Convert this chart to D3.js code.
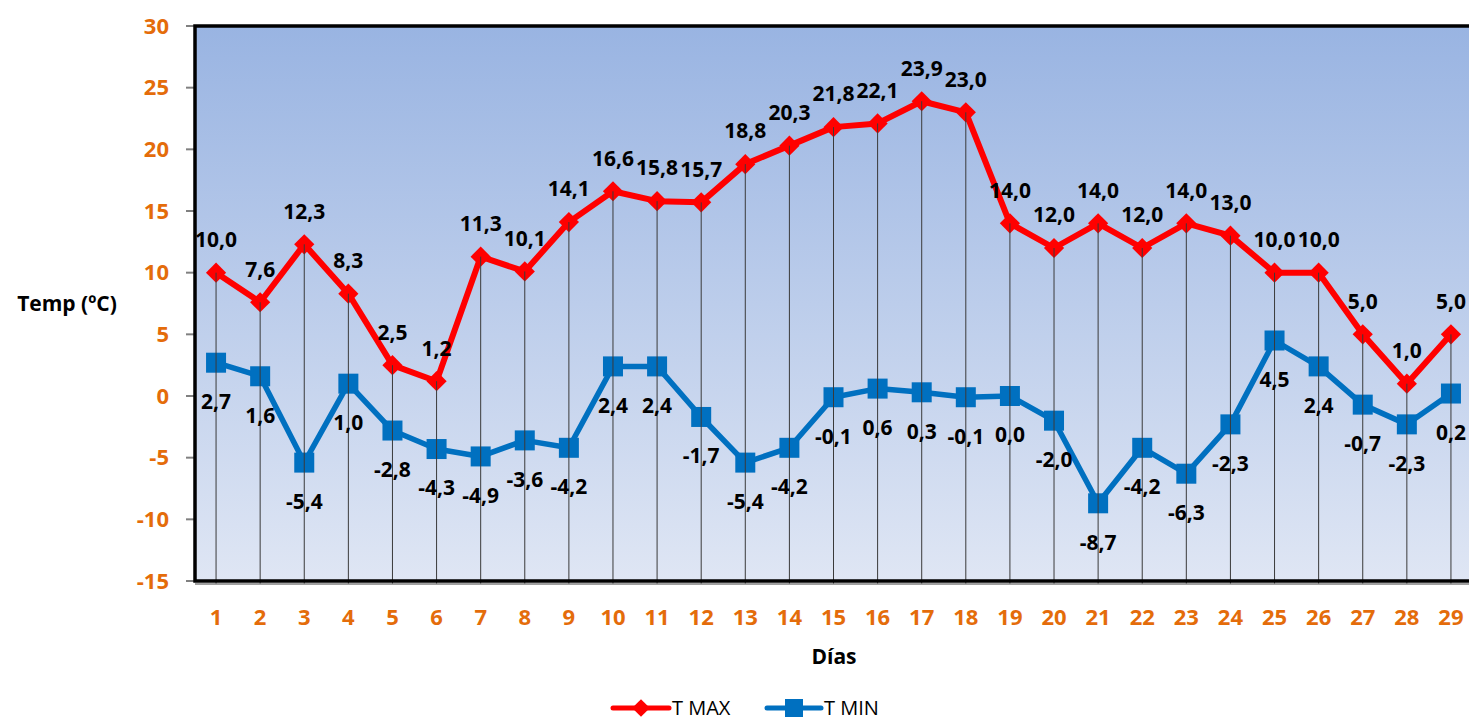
<!DOCTYPE html>
<meta charset="utf-8">
<style>
body { margin: 0; background: #fff; }
svg { display: block; font-family: "Open Sans", sans-serif; }
.ytick text, .xtick text { fill: #e46c0a; font-weight: bold; font-size: 22px; }
.lbl { font-weight: bold; font-size: 21px; fill: #000; }
</style>
<svg width="1469" height="720"></svg>
<script src="https://cdnjs.cloudflare.com/ajax/libs/d3/7.8.5/d3.min.js"></script>
<script>

var days = d3.range(1, 30);
var tmax = [10.0, 7.6, 12.3, 8.3, 2.5, 1.2, 11.3, 10.1, 14.1, 16.6, 15.8, 15.7, 18.8, 20.3, 21.8,
            22.1, 23.9, 23.0, 14.0, 12.0, 14.0, 12.0, 14.0, 13.0, 10.0, 10.0, 5.0, 1.0, 5.0];
var tmin = [2.7, 1.6, -5.4, 1.0, -2.8, -4.3, -4.9, -3.6, -4.2, 2.4, 2.4, -1.7, -5.4, -4.2, -0.1,
            0.6, 0.3, -0.1, 0.0, -2.0, -8.7, -4.2, -6.3, -2.3, 4.5, 2.4, -0.7, -2.3, 0.2];
var yTicks = [-15, -10, -5, 0, 5, 10, 15, 20, 25, 30];

var svg = d3.select("svg");
var plotL = 195, plotR = 1473, plotT = 26, plotB = 581;

var x = d3.scaleBand().domain(days).range([plotL - 1, plotR]);
var y = d3.scaleLinear().domain([-15, 30]).range([plotB, plotT]);
var cx = function(d) { return x(d) + x.bandwidth() / 2; };
var fmt = function(v) { return v.toFixed(1).replace(".", ","); };

// background gradient
var defs = svg.append("defs");
var grad = defs.append("linearGradient").attr("id", "bg")
    .attr("x1", 0).attr("y1", 0).attr("x2", 0).attr("y2", 1);
grad.append("stop").attr("offset", "0%").attr("stop-color", "#99b4e2");
grad.append("stop").attr("offset", "100%").attr("stop-color", "#dfe6f4");

svg.append("rect")
    .attr("x", plotL).attr("y", plotT)
    .attr("width", plotR - plotL).attr("height", plotB - plotT)
    .attr("fill", "url(#bg)");

// y axis ticks
var yt = svg.append("g").attr("class", "ytick")
  .selectAll("g").data(yTicks).enter().append("g")
    .attr("transform", function(d) { return "translate(0," + y(d) + ")"; });
yt.append("line").attr("x1", plotL - 9).attr("x2", plotL).attr("stroke", "#808080").attr("stroke-width", 2);
yt.append("text").attr("x", 169).attr("dy", "0.35em").attr("text-anchor", "end")
    .text(function(d) { return d; });

// x axis labels
svg.append("g").attr("class", "xtick")
  .selectAll("text").data(days).enter().append("text")
    .attr("x", cx).attr("y", 617).attr("dy", "0.35em").attr("text-anchor", "middle")
    .text(function(d) { return d; });

// series lines
var line = d3.line().x(function(d, i) { return cx(days[i]); }).y(function(d) { return y(d); });

svg.append("path").datum(tmin).attr("d", line)
    .attr("fill", "none").attr("stroke", "#0070c0").attr("stroke-width", 5.5).attr("stroke-linejoin", "round");
svg.append("path").datum(tmax).attr("d", line)
    .attr("fill", "none").attr("stroke", "#ff0000").attr("stroke-width", 6).attr("stroke-linejoin", "round");

// markers
svg.append("g").selectAll("rect").data(tmin).enter().append("rect")
    .attr("x", function(d, i) { return cx(days[i]) - 10; })
    .attr("y", function(d) { return y(d) - 10; })
    .attr("width", 20).attr("height", 20).attr("fill", "#0070c0");
svg.append("g").selectAll("path").data(tmax).enter().append("path")
    .attr("d", d3.symbol().type(d3.symbolDiamond2).size(260))
    .attr("transform", function(d, i) { return "translate(" + cx(days[i]) + "," + y(d) + ")"; })
    .attr("fill", "#ff0000");

// drop lines
svg.append("g").selectAll("line").data(days).enter().append("line")
    .attr("x1", cx).attr("x2", cx)
    .attr("y1", function(d, i) { return y(Math.max(tmax[i], tmin[i])); })
    .attr("y2", plotB + 3)
    .attr("stroke", "#3a3a3a").attr("stroke-width", 1);

// plot border
svg.append("path")
    .attr("d", "M" + plotR + "," + plotT + "H" + plotL + "V" + plotB + "H" + plotR)
    .attr("fill", "none").attr("stroke", "#000").attr("stroke-width", 3.5);
svg.append("line").attr("x1", plotL).attr("x2", plotR).attr("y1", plotB + 3).attr("y2", plotB + 3)
    .attr("stroke", "#808080").attr("stroke-width", 1.5);

// data labels
svg.append("g").selectAll("text").data(tmax).enter().append("text")
    .attr("class", "lbl").attr("text-anchor", "middle").attr("dy", "0.35em")
    .attr("x", function(d, i) { return cx(days[i]); })
    .attr("y", function(d) { return y(d) - 33; })
    .text(fmt);
svg.append("g").selectAll("text").data(tmin).enter().append("text")
    .attr("class", "lbl").attr("text-anchor", "middle").attr("dy", "0.35em")
    .attr("x", function(d, i) { return cx(days[i]); })
    .attr("y", function(d) { return y(d) + 39; })
    .text(fmt);

// axis titles
svg.append("text").attr("x", 67).attr("y", 304).attr("dy", "0.35em").attr("text-anchor", "middle")
    .attr("font-weight", "bold").attr("font-size", 21).text("Temp (ºC)");
svg.append("text").attr("x", 834).attr("y", 657).attr("dy", "0.35em").attr("text-anchor", "middle")
    .attr("font-weight", "bold").attr("font-size", 21).text("Días");

// legend
var legend = svg.append("g").attr("transform", "translate(0,708)");
legend.append("line").attr("x1", 613).attr("x2", 669).attr("stroke", "#ff0000").attr("stroke-width", 5).attr("stroke-linecap", "round");
legend.append("path").attr("d", d3.symbol().type(d3.symbolDiamond2).size(200))
    .attr("transform", "translate(641,0)").attr("fill", "#ff0000");
legend.append("text").attr("x", 672).attr("dy", "0.35em").attr("font-size", 20).text("T MAX");
legend.append("line").attr("x1", 767).attr("x2", 821).attr("stroke", "#0070c0").attr("stroke-width", 5).attr("stroke-linecap", "round");
legend.append("rect").attr("x", 785).attr("y", -9).attr("width", 18).attr("height", 18).attr("fill", "#0070c0");
legend.append("text").attr("x", 824).attr("dy", "0.35em").attr("font-size", 20).text("T MIN");

</script>
